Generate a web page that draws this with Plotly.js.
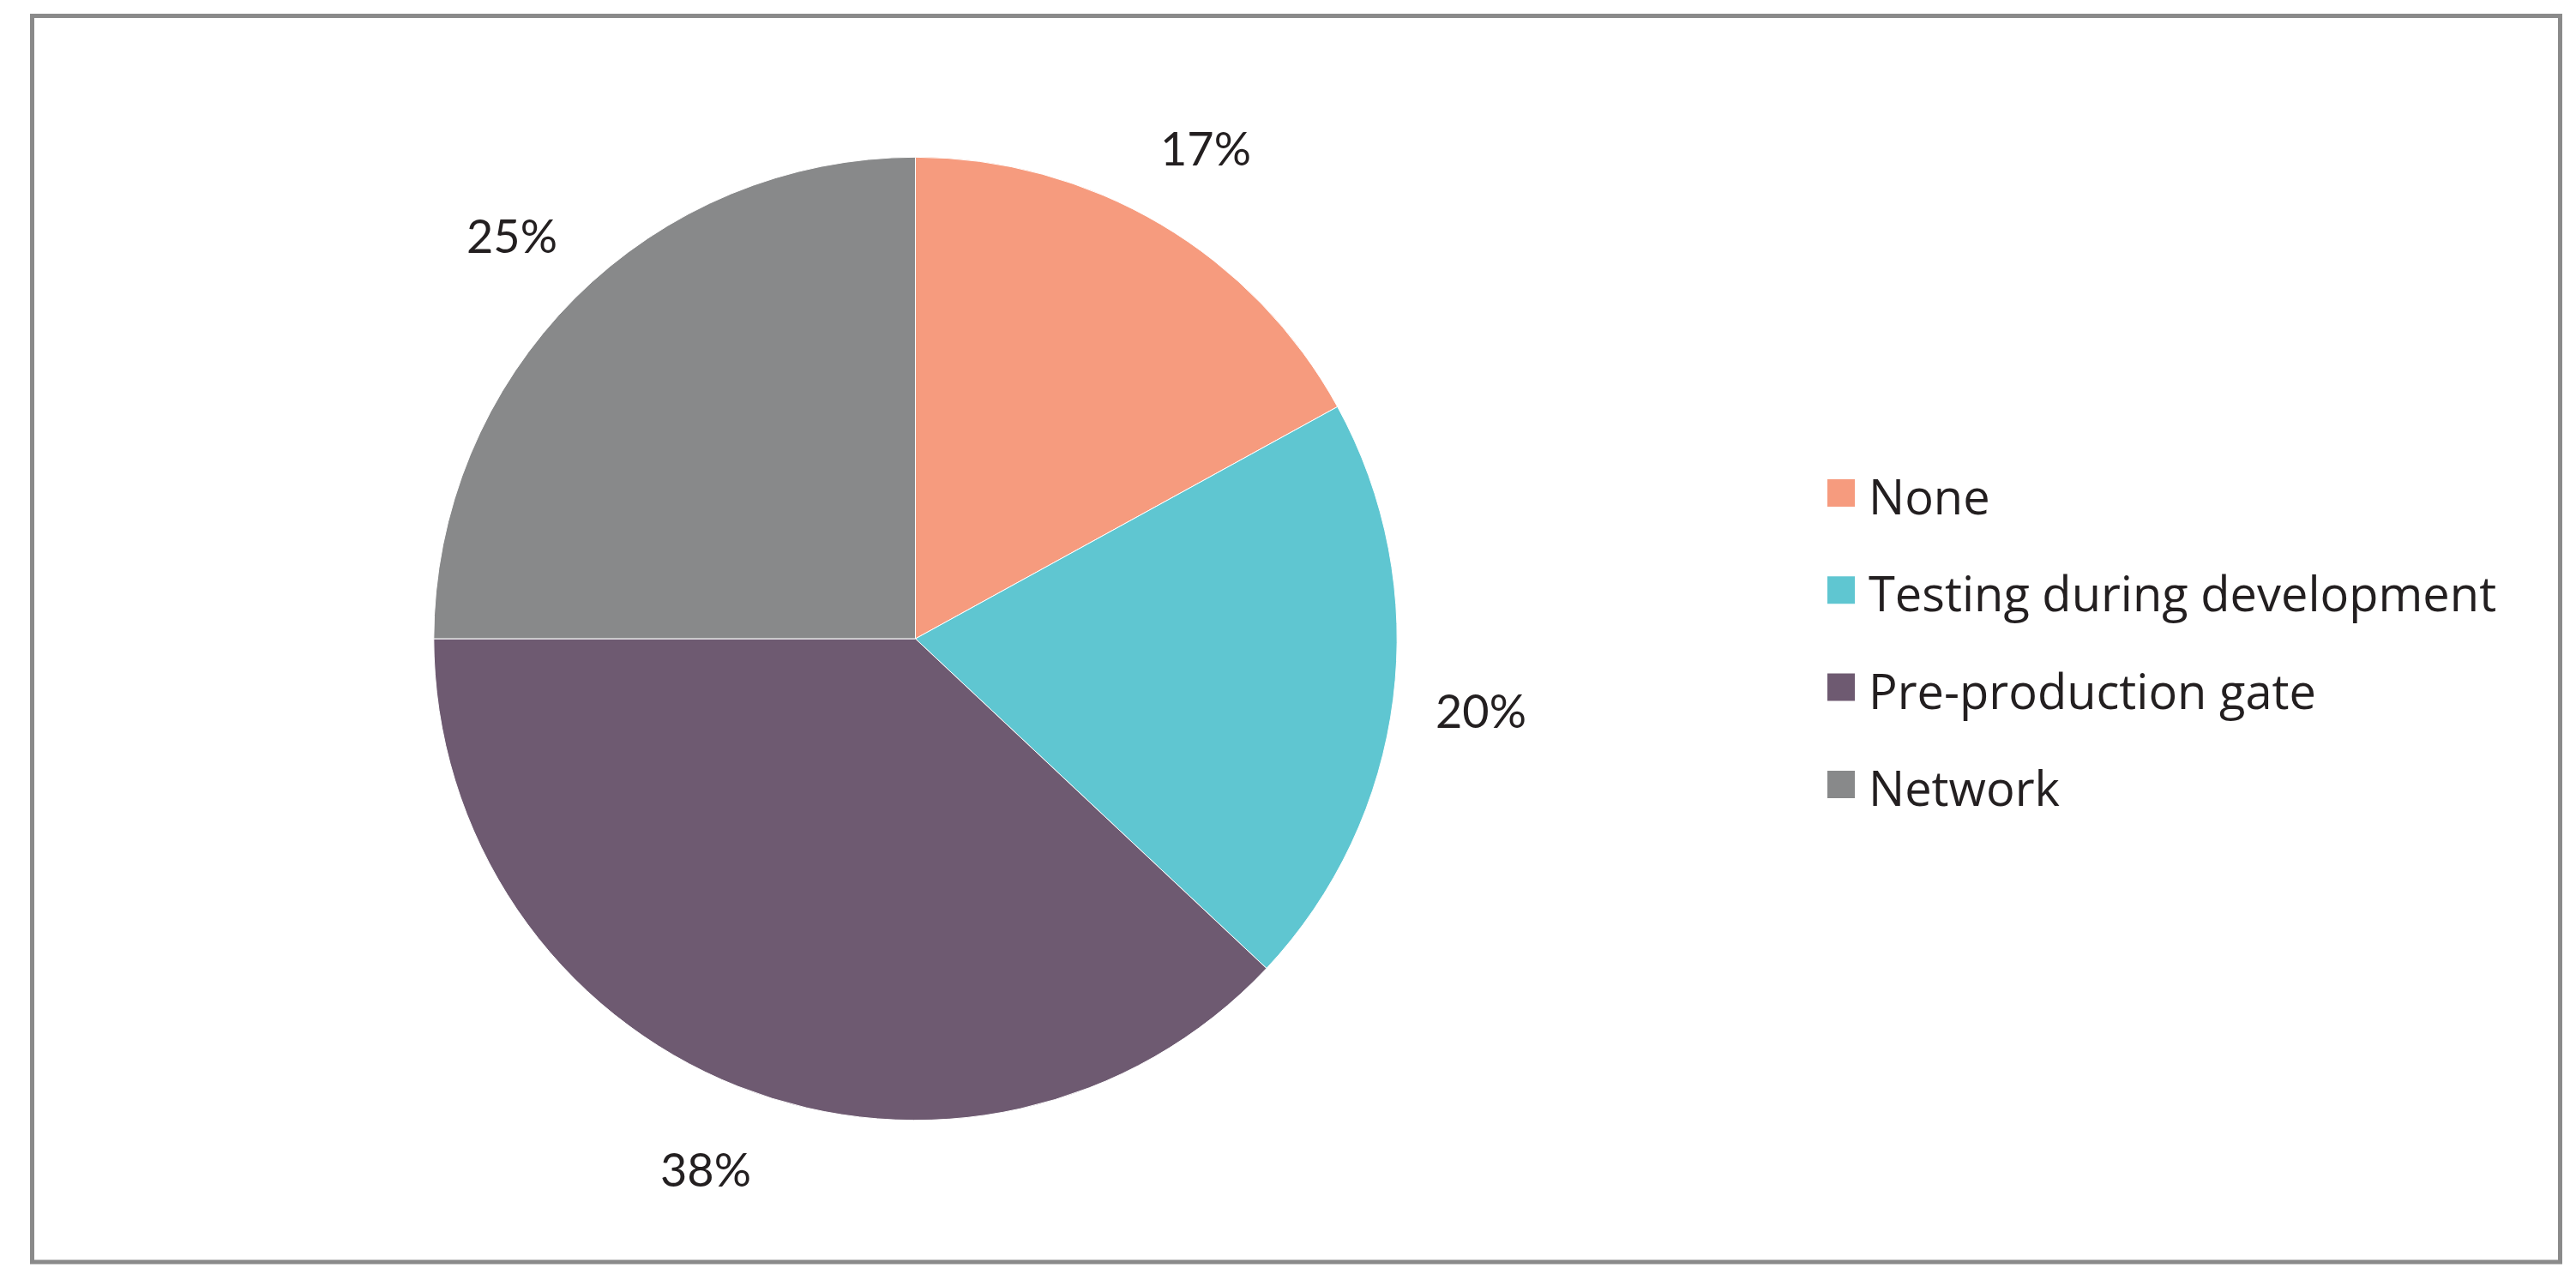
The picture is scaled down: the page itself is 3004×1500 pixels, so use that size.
<!DOCTYPE html>
<html>
<head>
<meta charset="utf-8">
<script src="https://cdn.plot.ly/plotly-3.0.1.min.js"></script>
<style>
  html, body { margin: 0; padding: 0; background: #ffffff; }
  #chart { width: 3004px; height: 1500px; }
</style>
</head>
<body>
<div id="chart"></div>
<script>
// ---- data ----
const categories = ['None', 'Testing during development', 'Pre-production gate', 'Network'];
const values = [17, 20, 38, 25];
const sliceColors = ['#F69B7E', '#5FC6D1', '#6E5A71', '#88898A'];

// ---- geometry (page pixels) ----
const W = 3004, H = 1500;
const cx = 1067.5, cy = 745, R = 561.7;
const LABEL_FONT = 'Lato, "Open Sans", sans-serif';
const LEGEND_FONT = '"Open Sans", Lato, sans-serif';
const px = x => x / W;
const py = y => 1 - y / H;

const total = values.reduce((a, b) => a + b, 0);

// percent labels placed outside, along each slice's mid angle
const annotations = [];
let cum = 0;
values.forEach((v, i) => {
  const mid = (cum + v / 2) / total * 2 * Math.PI; // clockwise from 12 o'clock
  cum += v;
  const d = R * 1.184;
  annotations.push({
    xref: 'paper', yref: 'paper',
    x: px(cx + d * Math.sin(mid)), y: py(cy - d * Math.cos(mid)),
    xanchor: 'center', yanchor: 'middle',
    text: Math.round(v / total * 100) + '%',
    showarrow: false,
    font: { family: LABEL_FONT, size: 54, color: '#231F20' }
  });
});

// frame and custom legend (large squares)
const shapes = [{
  type: 'rect', xref: 'paper', yref: 'paper',
  x0: px(37.5), x1: px(2985.5), y0: py(18.5), y1: py(1472),
  line: { color: '#8A8A8A', width: 5 }, fillcolor: 'rgba(0,0,0,0)'
}];
const legX = 2131, legSq = 32, legY0 = 575, legDy = 113.3, legTextX = 2177;
categories.forEach((c, i) => {
  const yc = legY0 + i * legDy;
  shapes.push({
    type: 'rect', xref: 'paper', yref: 'paper',
    x0: px(legX), x1: px(legX + legSq), y0: py(yc + legSq / 2), y1: py(yc - legSq / 2),
    line: { width: 0 }, fillcolor: sliceColors[i]
  });
  annotations.push({
    xref: 'paper', yref: 'paper',
    x: px(legTextX), y: py(yc + 3),
    xanchor: 'left', yanchor: 'middle',
    text: c, showarrow: false,
    font: { family: LEGEND_FONT, size: 56, color: '#231F20' }
  });
});

const trace = {
  type: 'pie',
  labels: categories,
  values: values,
  sort: false,
  direction: 'clockwise',
  rotation: 0,
  textinfo: 'none',
  hoverinfo: 'label+percent',
  marker: { colors: sliceColors, line: { color: '#FFFFFF', width: 1 } },
  domain: { x: [px(cx - R), px(cx + R)], y: [py(cy + R), py(cy - R)] },
  showlegend: false
};

const layout = {
  width: W, height: H,
  margin: { l: 0, r: 0, t: 0, b: 0 },
  paper_bgcolor: '#FFFFFF',
  plot_bgcolor: '#FFFFFF',
  showlegend: false,
  annotations: annotations,
  shapes: shapes,
  font: { family: LABEL_FONT }
};

Plotly.newPlot('chart', [trace], layout, { displayModeBar: false, staticPlot: true });
</script>
</body>
</html>
